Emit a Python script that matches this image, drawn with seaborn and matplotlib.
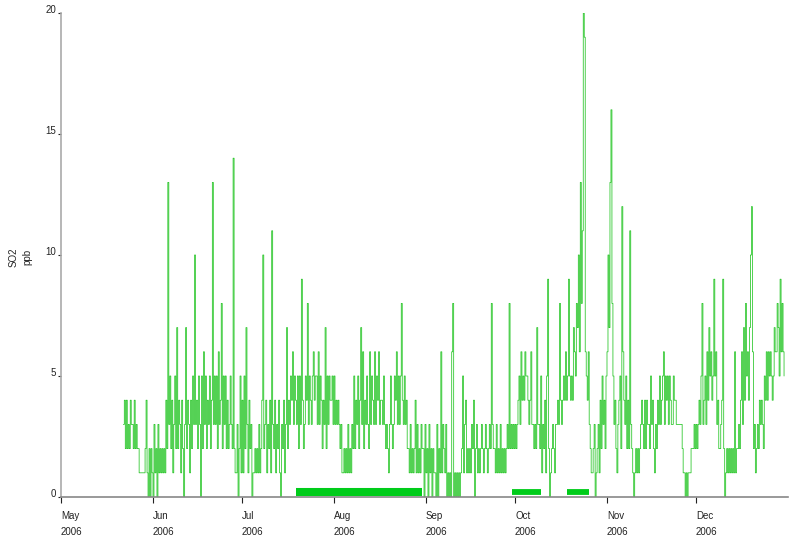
import pandas as pd
import seaborn as sns
import matplotlib.pyplot as plt

# SO2 readings (ppb), three readings a day (00h, 08h, 16h)
may = [3, 4, 2, 4, 2, 3, 2, 4, 3, 3, 2, 4, 2, 3, 2, 2, 1, 1, 1, 1, 1, 1, 2, 4, 1, 0, 2, 0, 2, 1]
jun = [0, 3, 1, 2, 0, 3, 1, 2, 1, 2, 1, 2, 1, 4, 2, 13, 3, 5, 2, 4, 1, 3, 5, 2, 7, 2, 4, 3, 1, 4,
       2, 0, 3, 7, 2, 4, 3, 1, 4, 2, 5, 3, 10, 3, 4, 2, 5, 3, 0, 5, 2, 6, 3, 5, 2, 4, 3, 5, 2, 4,
       13, 3, 5, 3, 5, 2, 6, 3, 4, 8, 2, 5, 3, 5, 2, 4, 2, 3, 5, 3, 2, 14, 2, 1, 1, 3, 0]
jul = [2, 5, 1, 4, 1, 5, 2, 7, 3, 1, 4, 2, 3, 0, 1, 1, 2, 1, 2, 1, 3, 1, 2, 4, 10, 2, 3, 4, 1, 3,
       2, 4, 1, 11, 3, 2, 4, 1, 3, 2, 4, 1, 0, 3, 2, 4, 1, 3, 7, 2, 4, 3, 5, 4, 6, 3, 5, 4, 3, 5,
       2, 5, 3, 9, 4, 2, 3, 5, 4, 8, 3, 5, 4, 3, 5, 6, 4, 5, 5, 3, 6, 3, 5, 4, 2, 4, 3, 7, 2, 5,
       3, 5, 4]
aug = [4, 5, 3, 5, 3, 4, 3, 4, 3, 2, 3, 1, 1, 2, 1, 2, 1, 3, 1, 2, 1, 3, 2, 5, 2, 4, 3, 5, 2, 4,
       7, 3, 6, 2, 4, 3, 5, 3, 2, 6, 3, 5, 4, 3, 6, 3, 5, 4, 6, 3, 4, 4, 3, 5, 3, 2, 3, 2, 1, 3,
       5, 3, 2, 3, 5, 4, 6, 3, 5, 3, 5, 8, 4, 3, 5, 3, 4, 2, 2, 1, 3, 1, 2, 1, 2, 4, 1, 3, 1, 2,
       1, 3, 2]
sep = [2, 0, 3, 1, 2, 0, 3, 1, 2, 0, 2, 1, 1, 0, 3, 0, 2, 1, 6, 1, 3, 2, 1, 3, 0, 1, 0, 1, 0, 6,
       8, 0, 1, 0, 1, 0, 1, 0, 1, 2, 5, 1, 3, 4, 1, 2, 1, 2, 1, 3, 2, 4, 0, 2, 3, 1, 2, 1, 2, 3,
       2, 1, 2, 3, 2, 1, 2, 3, 2, 8, 3, 2, 2, 1, 3, 1, 2, 1, 3, 1, 2, 1, 2, 1, 2, 3, 2, 8, 2, 3]
oct_ = [2, 3, 2, 3, 2, 3, 4, 5, 3, 6, 4, 5, 4, 6, 5, 5, 4, 3, 4, 6, 3, 3, 2, 3, 2, 7, 3, 3, 2, 5,
        1, 3, 2, 4, 1, 5, 9, 2, 0, 1, 2, 3, 2, 1, 3, 3, 4, 3, 8, 4, 3, 4, 5, 4, 6, 4, 5, 9, 5, 4,
        5, 4, 7, 6, 5, 8, 7, 10, 6, 13, 8, 11, 20, 19, 6, 5, 4, 6, 3, 2, 1, 1, 2, 3, 0, 1, 2, 3, 1, 4,
        2, 5, 3]
nov = [4, 2, 5, 6, 10, 7, 13, 16, 8, 5, 3, 4, 2, 1, 3, 4, 5, 2, 12, 6, 4, 3, 5, 2, 4, 2, 11, 3, 2, 1,
       0, 1, 2, 1, 2, 1, 2, 3, 4, 3, 2, 4, 2, 4, 3, 3, 2, 5, 3, 4, 2, 1, 3, 2, 4, 3, 5, 3, 4, 5,
       6, 3, 5, 4, 5, 3, 5, 4, 3, 3, 5, 4, 4, 3, 3, 3, 3, 3, 3, 2, 1, 1, 0, 1, 0, 1, 1, 1, 2, 2]
dec = [2, 3, 2, 3, 2, 3, 4, 3, 5, 8, 3, 4, 5, 3, 6, 4, 7, 5, 6, 4, 5, 9, 5, 6, 3, 4, 2, 2, 3, 4,
       9, 2, 0, 1, 2, 1, 2, 1, 2, 1, 2, 1, 6, 1, 2, 2, 3, 2, 4, 6, 3, 7, 4, 8, 5, 6, 4, 7, 10, 12,
       6, 2, 3, 1, 2, 3, 2, 4, 3, 4, 3, 2, 5, 4, 6, 4, 6, 5, 6, 5, 4, 5, 7, 6, 6, 8, 7, 5, 9, 6,
       8, 6, 5]

so2 = may + jun + jul + aug + sep + oct_ + nov + dec
times = pd.date_range('2006-05-22', periods=len(so2), freq='8h')

# flagged periods (thick bars near zero)
bar_starts = ['2006-07-19 03:00', '2006-09-29 20:00', '2006-10-18 10:00']
bar_ends = ['2006-08-30 12:00', '2006-10-09 15:00', '2006-10-25 19:00']

month_names = ['May', 'Jun', 'Jul', 'Aug', 'Sep', 'Oct', 'Nov', 'Dec']
year_label = '2006'
y_ticks = [0, 5, 10, 15, 20]

sns.set_style('white')
plt.rcParams['font.family'] = ['Liberation Sans', 'DejaVu Sans']

fig = plt.figure(figsize=(8, 5.42), dpi=100)
ax = fig.add_axes([0.07625, 0.083, 0.90875, 0.893])

df = pd.DataFrame({'time': times, 'so2': so2})
sns.lineplot(data=df, x='time', y='so2', drawstyle='steps-post', color='#22c422',
             linewidth=0.55, estimator=None, ax=ax)

widths = [5.8, 4.2, 4.2]
for s, e, w in zip(bar_starts, bar_ends, widths):
    ax.hlines(0.2, pd.Timestamp(s), pd.Timestamp(e), color='#00cc1a', linewidth=w,
              capstyle='butt')

ax.set_xlim(pd.Timestamp('2006-05-01'), pd.Timestamp('2007-01-01'))
ax.set_ylim(0, 20)

month_ticks = pd.date_range('2006-05-01', '2006-12-01', freq='MS')
ax.set_xticks(month_ticks)
ax.set_xticklabels([m + '\n' + year_label for m in month_names], fontsize=7,
                   ha='left', linespacing=1.75)
ax.set_yticks(y_ticks)
ax.set_yticklabels([str(v) for v in y_ticks], fontsize=7, va='baseline')

ax.tick_params(axis='x', bottom=True, direction='out', length=4, width=0.8, pad=6,
               colors='#222222')
ax.tick_params(axis='y', left=True, direction='out', length=2.5, width=0.8, pad=1,
               colors='#222222')

sns.despine(ax=ax)
ax.spines['left'].set_color('#aaaaaa')
ax.spines['bottom'].set_color('#888888')
ax.spines['left'].set_linewidth(1.2)
ax.spines['bottom'].set_linewidth(1.2)
ax.set_xlabel('')
ax.set_ylabel('')

fig.text(14 / 800, 1 - 257 / 542, 'SO2', rotation=90, fontsize=7, ha='center', va='center')
fig.text(27 / 800, 1 - 257 / 542, 'ppb', rotation=90, fontsize=7, ha='center', va='center')

fig.savefig('out.png', dpi=100, facecolor='white')
